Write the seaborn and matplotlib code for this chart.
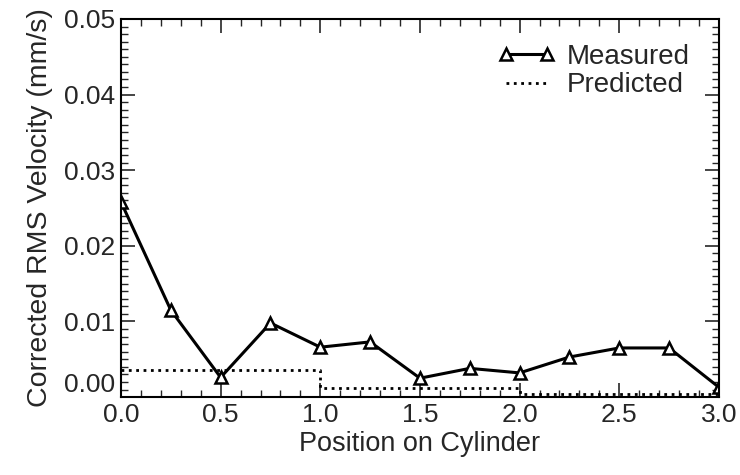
import matplotlib
matplotlib.use("Agg")
import matplotlib.pyplot as plt
import seaborn as sns
import numpy as np
from matplotlib.ticker import MultipleLocator, FormatStrFormatter

# Data
positions = [0.0, 0.25, 0.5, 0.75, 1.0, 1.25, 1.5, 1.75, 2.0, 2.25, 2.5, 2.75, 3.0]
measured = [0.0258, 0.0115, 0.0026, 0.0098, 0.0066, 0.0073, 0.0025, 0.0038,
            0.0032, 0.0053, 0.0065, 0.0065, 0.0013]
pred_x = [0.0, 1.0, 2.0, 3.0]
predicted = [0.0036, 0.0012, 0.0004, 0.0004]

sns.set_style("ticks")
plt.rcParams['font.family'] = ['Liberation Sans', 'DejaVu Sans']

fig = plt.figure(figsize=(7.4, 4.75), dpi=100)
ax = fig.add_axes([0.1635, 0.164, 0.808, 0.796])

sns.lineplot(x=positions, y=measured, ax=ax, color='black', linewidth=2.2,
             marker='^', markersize=8, markerfacecolor='white',
             markeredgecolor='black', markeredgewidth=1.8, label='Measured')
sns.lineplot(x=pred_x, y=predicted, ax=ax, color='black', linewidth=2.0,
             linestyle=':', drawstyle='steps-post', label='Predicted')

ax.set_xlim(0, 3.0)
ax.set_ylim(0, 0.05)
ax.xaxis.set_major_locator(MultipleLocator(0.5))
ax.xaxis.set_minor_locator(MultipleLocator(0.1))
ax.yaxis.set_major_locator(MultipleLocator(0.01))
ax.yaxis.set_minor_locator(MultipleLocator(0.001))
ax.xaxis.set_major_formatter(FormatStrFormatter('%.1f'))
ax.yaxis.set_major_formatter(FormatStrFormatter('%.2f'))

ax.tick_params(which='major', direction='in', length=10, width=1.2,
               top=True, right=True, labelsize=19, pad=4)
ax.tick_params(which='minor', direction='in', length=5, width=1.0,
               top=True, right=True)
for s in ax.spines.values():
    s.set_linewidth(1.5)
    s.set_color('black')

ax.set_xlabel('Position on Cylinder', fontsize=19.5, labelpad=3)
ax.set_ylabel('Corrected RMS Velocity (mm/s)', fontsize=20.5, labelpad=8)

leg = ax.legend(loc='upper right', bbox_to_anchor=(0.951, 0.935), frameon=False,
                fontsize=20, handlelength=2.1, handletextpad=0.4,
                labelspacing=0.1, numpoints=2, borderaxespad=0, borderpad=0)

# lift the bottom y tick label (as in the reference) to clear the x tick labels
fig.canvas.draw()
for t in ax.yaxis.get_major_ticks():
    if abs(t.get_loc()) < 1e-9:
        t.label1.set_verticalalignment('bottom')

fig.savefig('out.png', dpi=100)
